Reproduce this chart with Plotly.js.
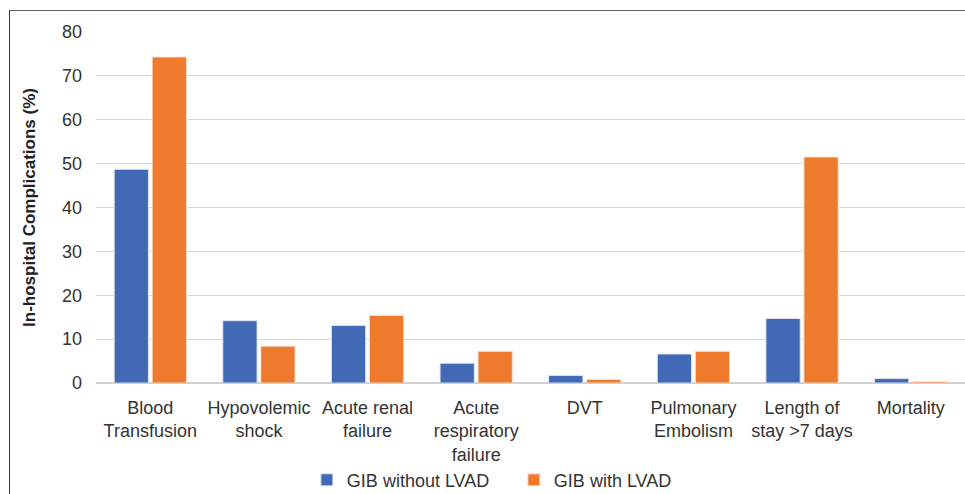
<!DOCTYPE html>
<html>
<head>
<meta charset="utf-8">
<script src="https://cdn.plot.ly/plotly-3.0.1.min.js"></script>
<style>
  html, body { margin: 0; padding: 0; background: #fff; }
  #frame { position: absolute; left: 9px; top: 10px; width: 970px; height: 500px;
           border-top: 1.5px solid #666; border-left: 1.5px solid #333; }
  #chart { position: absolute; left: 0; top: 0; width: 965px; height: 494px; }
</style>
</head>
<body>
<div id="frame"></div>
<div id="chart"></div>
<script>
const categories = [
  "Blood<br>Transfusion",
  "Hypovolemic<br>shock",
  "Acute renal<br>failure",
  "Acute<br>respiratory<br>failure",
  "DVT",
  "Pulmonary<br>Embolism",
  "Length of<br>stay >7 days",
  "Mortality"
];
const withoutLVAD = [48.7, 14.2, 13.1, 4.5, 1.7, 6.6, 14.7, 1.0];
const withLVAD    = [74.3, 8.4, 15.4, 7.2, 0.8, 7.2, 51.5, 0.3];
const seriesNames = ["GIB without LVAD", "GIB with LVAD"];
const yTicks = [0, 10, 20, 30, 40, 50, 60, 70, 80];

const traces = [
  { type: "bar", name: seriesNames[0], x: categories, y: withoutLVAD,
    marker: { color: "#4169B5", line: { color: "rgba(225,230,240,0.9)", width: 1 } },
    hoverinfo: "y" },
  { type: "bar", name: seriesNames[1], x: categories, y: withLVAD,
    marker: { color: "#EE7A2E", line: { color: "rgba(245,225,210,0.9)", width: 1 } },
    hoverinfo: "y" }
];

const layout = {
  width: 965, height: 494,
  margin: { l: 96, r: 0, t: 32, b: 111 },
  paper_bgcolor: "rgba(0,0,0,0)",
  plot_bgcolor: "rgba(0,0,0,0)",
  font: { family: "Liberation Sans, Arial, sans-serif", size: 18, color: "#333" },
  barmode: "group",
  bargap: 0.30,
  bargroupgap: 0.10,
  showlegend: true,
  legend: {
    orientation: "h", xref: "container", yref: "container",
    x: 0.318, xanchor: "left", y: 0.028, yanchor: "middle",
    font: { size: 18, color: "#333" }, entrywidth: 162, entrywidthmode: "pixels",
    itemwidth: 30
  },
  xaxis: {
    type: "category", showgrid: false, zeroline: false, showline: false,
    ticks: "", tickfont: { size: 18, color: "#333" }, tickangle: 0,
    ticklabelstandoff: 12
  },
  yaxis: {
    range: [0, 80], tickvals: yTicks, ticktext: yTicks.map(String),
    showgrid: true, gridcolor: "#d9d9d9", gridwidth: 1,
    zeroline: true, zerolinecolor: "#d0d0d0", zerolinewidth: 1.5,
    showline: false, ticks: "", ticklabelstandoff: 13,
    tickfont: { size: 18, color: "#333" },
    title: { text: "<b>In-hospital Complications (%)</b>", font: { size: 17, color: "#222" }, standoff: 22 }
  }
};

Plotly.newPlot("chart", traces, layout, { displayModeBar: false, staticPlot: true });
</script>
</body>
</html>
